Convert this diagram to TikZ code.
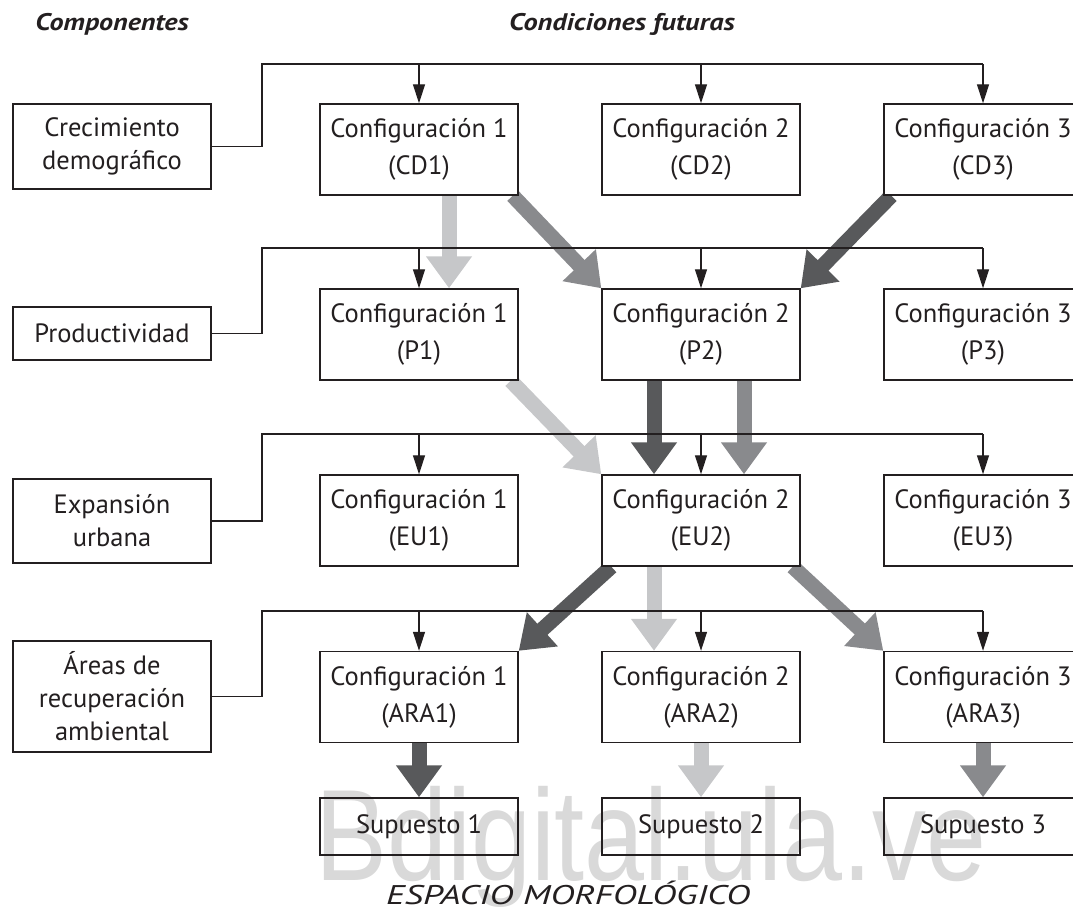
\documentclass[tikz,border=0pt]{standalone}
\usepackage{fontspec}
\setmainfont{PT Sans}
\newfontfamily\markfont{Liberation Sans}
\usetikzlibrary{arrows.meta, positioning, backgrounds}

\definecolor{ink}{HTML}{231F20}
\definecolor{lightflow}{HTML}{C6C7C9}
\definecolor{midflow}{HTML}{898A8D}
\definecolor{darkflow}{HTML}{58595B}
\definecolor{markgray}{HTML}{D9D9D9}

\begin{document}
\begin{tikzpicture}[x = 1pt, y = -1pt, node distance = 282pt, on grid,
    config/.style = {draw = ink, line width = 1.4pt, fill = white, rectangle,
      minimum width = 198pt, minimum height = 91pt, align = center,
      text = ink, font = \fontsize{26.5}{37}\selectfont},
    comp/.style = {config, font = \fontsize{26.5}{33}\selectfont},
    supp/.style = {config, fill = none, minimum height = 57pt},
    head/.style = {text = ink, font = \fontsize{24}{28}\selectfont\bfseries\itshape},
    bus/.style = {draw = ink, line width = 1.2pt},
    feed/.style = {bus, -{Triangle[width = 12pt, length = 19pt]}},
    fat/.style = {draw = #1, line width = 15pt,
      -{Triangle[width = 44pt, length = 32pt]}}]
  \useasboundingbox (0,0) rectangle (1073,913);

  % headers
  \node[head] (hcomp) at (112,24) {\scalebox{1.17}[1]{Componentes}};
  \node[head] (hcond) at (622,24) {\scalebox{1.18}[1]{Condiciones futuras}};

  % components
  \node[comp, minimum height = 85pt] (grow) at (112,146.5) {Crecimiento\\demográfico};
  \node[comp, minimum height = 53pt] (prod) at (112,333.5) {Productividad};
  \node[comp, minimum height = 84pt] (expa) at (112,521) {Expansión\\urbana};
  \node[comp, minimum height = 111pt] (area) at (112,696.5) {Áreas de\\recuperación\\ambiental};

  % configurations
  \node[config] (cd1) at (419,149.5) {Configuración 1\\(CD1)};
  \node[config] [right=of cd1] (cd2) {Configuración 2\\(CD2)};
  \node[config] [right=of cd2] (cd3) {Configuración 3\\(CD3)};
  \node[config] [below=185pt of cd1] (p1) {Configuración 1\\(P1)};
  \node[config] [right=of p1] (p2) {Configuración 2\\(P2)};
  \node[config] [right=of p2] (p3) {Configuración 3\\(P3)};
  \node[config] [below=186pt of p1] (eu1) {Configuración 1\\(EU1)};
  \node[config] [right=of eu1] (eu2) {Configuración 2\\(EU2)};
  \node[config] [right=of eu2] (eu3) {Configuración 3\\(EU3)};
  \node[config] [below=176.5pt of eu1] (ara1) {Configuración 1\\(ARA1)};
  \node[config] [right=of ara1] (ara2) {Configuración 2\\(ARA2)};
  \node[config] [right=of ara2] (ara3) {Configuración 3\\(ARA3)};
  \node[supp] [below=129.5pt of ara1] (sup1) {Supuesto 1};
  \node[supp] [right=of sup1] (sup2) {Supuesto 2};
  \node[supp] [right=of sup2] (sup3) {Supuesto 3};

  \node[text = ink, font = \fontsize{27}{30}\selectfont\itshape, anchor = base, inner sep = 0pt] (space) at (568,904)
    {\scalebox{1.35}[1]{ESPACIO MORFOLÓGICO}};

  \coordinate (b1) at (262,64);
  \coordinate (b2) at (262,248);
  \coordinate (b3) at (262,434);
  \coordinate (b4) at (262,611);

  \begin{scope}[on background layer]
    \node[text = markgray, font = \fontsize{130}{130}\selectfont\markfont, anchor = base] (mark) at (651,880)
      {\scalebox{0.83}[1]{Bdigital.ula.ve}};

    % chosen paths
    \path
      ([xshift=30pt]cd1.south) edge[fat = lightflow] ([xshift=30pt]p1.north)
      ([xshift=-6pt]cd1.south east) edge[fat = midflow] (p2.north west)
      ([xshift=8pt]cd3.south west) edge[fat = darkflow] (p2.north east)
      ([xshift=-8pt]p1.south east) edge[fat = lightflow] (eu2.north west)
      ([xshift=-47pt]p2.south) edge[fat = darkflow] ([xshift=-47pt]eu2.north)
      ([xshift=43pt]p2.south) edge[fat = midflow] ([xshift=43pt]eu2.north)
      ([xshift=10pt]eu2.south west) edge[fat = darkflow] (ara1.north east)
      ([xshift=-47pt]eu2.south) edge[fat = lightflow] ([xshift=-47pt]ara2.north)
      ([xshift=-8pt]eu2.south east) edge[fat = midflow] (ara3.north west)
      (ara1.south) edge[fat = darkflow] (sup1.north)
      (ara2.south) edge[fat = lightflow] (sup2.north)
      (ara3.south) edge[fat = midflow] (sup3.north);

    % component buses
    \draw[bus] (grow.east) -| (b1) -- (b1 -| cd3.north);
    \draw[bus] (prod.east) -| (b2) -- (b2 -| p3.north);
    \draw[bus] (expa.east) -| (b3) -- (b3 -| eu3.north);
    \draw[bus] (area.east) -| (b4) -- (b4 -| ara3.north);
    \path[every edge/.style = feed]
      (b1 -| cd1.north) edge (cd1.north)
      (b1 -| cd2.north) edge (cd2.north)
      (b1 -| cd3.north) edge (cd3.north)
      (b2 -| p1.north) edge (p1.north)
      (b2 -| p2.north) edge (p2.north)
      (b2 -| p3.north) edge (p3.north)
      (b3 -| eu1.north) edge (eu1.north)
      (b3 -| eu2.north) edge (eu2.north)
      (b3 -| eu3.north) edge (eu3.north)
      (b4 -| ara1.north) edge (ara1.north)
      (b4 -| ara2.north) edge (ara2.north)
      (b4 -| ara3.north) edge (ara3.north);
  \end{scope}
\end{tikzpicture}
\end{document}
